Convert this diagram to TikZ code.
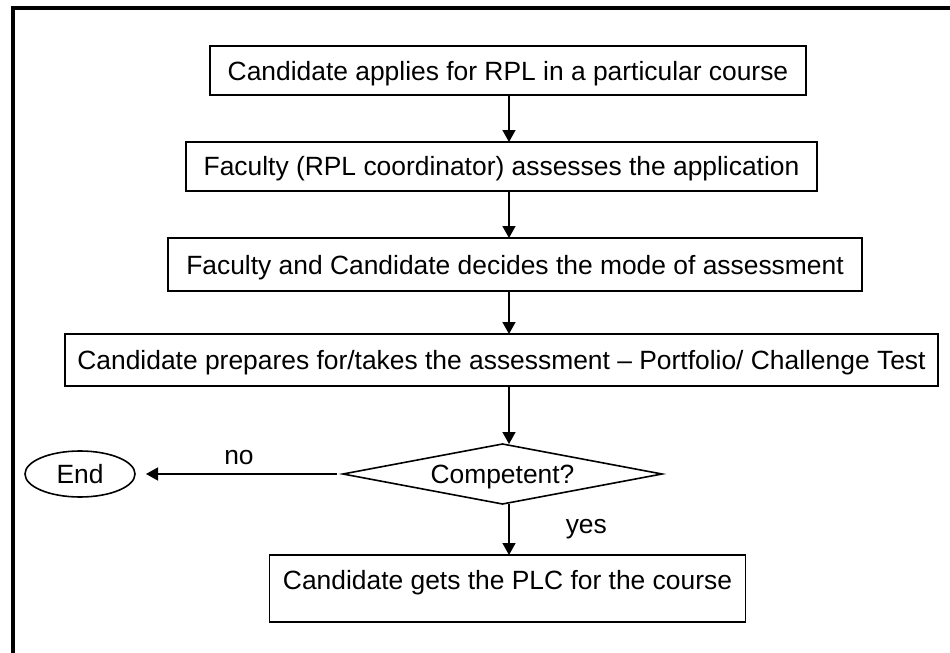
\documentclass[tikz,border=0pt]{standalone}
\usepackage{fontspec}
\setmainfont{Liberation Sans}
\usetikzlibrary{shapes.geometric,arrows.meta,positioning}

\begin{document}
\begin{tikzpicture}[
    node distance=23.5pt,
    every node/.style={font=\fontsize{13.2}{15}\selectfont},
    box/.style={rectangle, draw, line width=0.9pt, inner sep=0pt, outer sep=0pt, minimum height=24.5pt, text height=9.75pt, text depth=0.25pt},
    decision/.style={diamond, draw, line width=0.8pt, inner sep=0pt, outer sep=0pt, shape aspect=5.3, minimum width=159.5pt, minimum height=30pt, text height=9.75pt, text depth=0.25pt},
    terminal/.style={ellipse, draw, line width=0.8pt, inner sep=0pt, outer sep=0pt, minimum width=55pt, minimum height=23pt, text height=9.75pt, text depth=0.25pt},
    arrow/.style={-{Triangle[length=6pt,width=6.5pt]}, line width=0.75pt},
    frame/.style={line width=1.6pt}
]
\useasboundingbox (0,0) rectangle (475pt,-326.5pt);

% Outer frame
\draw[frame] (6.5pt,-326.5pt) -- (6.5pt,-4pt) -- (475pt,-4pt);

% Application
\node[box, minimum width=298pt] (app) at (254pt,-35.25pt) {Candidate applies for RPL in a particular course};

% Faculty check
\node[box, minimum width=315.5pt, below=of app, xshift=-3.25pt] (fac) {Faculty (RPL coordinator) assesses the application};

% Mode of assessment
\node[box, minimum width=347pt, minimum height=26.5pt, below=of fac, xshift=6.75pt] (mode) {Faculty and Candidate decides the mode of assessment};

% Assessment
\node[box, minimum width=436.5pt, minimum height=26pt, below=21.5pt of mode, xshift=-6.75pt] (prep) {Candidate prepares for/takes the assessment – Portfolio/ Challenge Test};

% Decision
\node[decision, below=29pt of prep, xshift=0.5pt] (comp) {Competent?};

% Outcomes
\node[box, minimum width=238pt, minimum height=33.5pt, text height=10pt, text depth=9pt, below=25.5pt of comp, xshift=2.5pt] (plc) {Candidate gets the PLC for the course};
\node[terminal, left=104pt of comp] (end) {End};

% Arrows
\coordinate (spine) at (254.5pt,0);
\draw[arrow] (app.south -| spine) -- (fac.north -| spine);
\draw[arrow] (fac.south -| spine) -- (mode.north -| spine);
\draw[arrow] (mode.south -| spine) -- (prep.north -| spine);
\draw[arrow] (prep.south -| spine) -- (comp.north -| spine);
\draw[arrow] (comp.south -| spine) -- node[right=28pt, inner sep=0pt] {yes} (plc.north -| spine);
\draw[arrow, shorten <=3pt, shorten >=5.5pt] (comp.west) -- node[above, inner sep=4pt] {no} (end.east);

\end{tikzpicture}
\end{document}
